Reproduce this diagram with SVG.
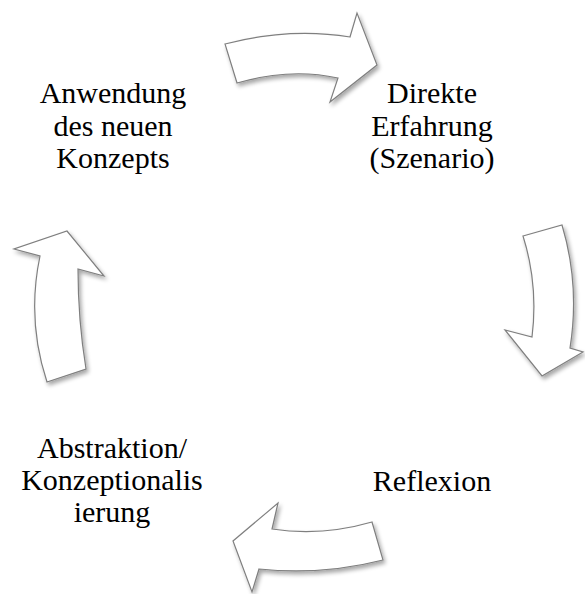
<svg xmlns="http://www.w3.org/2000/svg" width="585" height="594" viewBox="0 0 585 594">
<defs>
<filter id="sh" x="-20%" y="-20%" width="140%" height="140%">
<feGaussianBlur in="SourceAlpha" stdDeviation="2"/>
<feOffset dx="1.5" dy="3" result="b"/>
<feComponentTransfer><feFuncA type="linear" slope="0.35"/></feComponentTransfer>
<feMerge><feMergeNode/><feMergeNode in="SourceGraphic"/></feMerge>
</filter>
</defs>
<style>
.arr{fill:#ffffff;stroke:#7f7f7f;stroke-width:1.2;stroke-linejoin:miter;filter:url(#sh)}
.t{font-family:"Liberation Serif","Times New Roman",serif;font-size:30px;fill:#000;text-anchor:middle}
</style>
<rect width="585" height="594" fill="#ffffff"/>
<g id="connectors">
<path class="arr" d="M225,44 Q290,27 350,37 L357,13 L377,65 L330,102 L338,78 Q290,67.5 237,83 Z"/>
<path class="arr" d="M523,236 L562,225 Q580,285 570,348 L583,352 L542,376 L505,330 L532,337 Q538.5,285 523,236 Z"/>
<path class="arr" d="M372,522 L383,560 Q322,575.5 259,569 L252,592 L233,541 L278,503 L272,529 Q322,536.5 372,522 Z"/>
<path class="arr" d="M47,382 L86,369 Q78,320 78,269 L104,276 L67,231 L14,249 L40,256 Q26.5,320 47,382 Z"/>
</g>
<g id="node-anwendung">
<text class="t" x="113" y="103">Anwendung</text>
<text class="t" x="113" y="135.5">des neuen</text>
<text class="t" x="113" y="168">Konzepts</text>
</g>
<g id="node-erfahrung">
<text class="t" x="432" y="103">Direkte</text>
<text class="t" x="432" y="136">Erfahrung</text>
<text class="t" x="432" y="168">(Szenario)</text>
</g>
<g id="node-reflexion">
<text class="t" x="432" y="491">Reflexion</text>
</g>
<g id="node-abstraktion">
<text class="t" x="112" y="458">Abstraktion/</text>
<text class="t" x="112" y="490">Konzeptionalis</text>
<text class="t" x="112" y="522">ierung</text>
</g>
</svg>
